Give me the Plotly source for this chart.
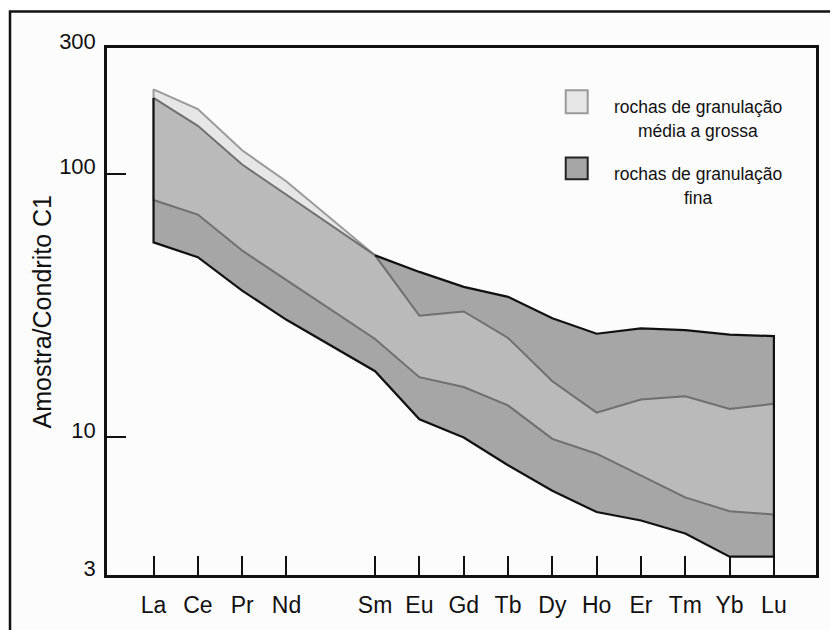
import plotly.graph_objects as go

# Full REE sequence (Pm is not analysed, but it keeps its slot on the axis)
ree_sequence = ["La", "Ce", "Pr", "Nd", "Pm", "Sm", "Eu", "Gd", "Tb", "Dy",
                "Ho", "Er", "Tm", "Yb", "Lu"]
elements = ["La", "Ce", "Pr", "Nd", "Sm", "Eu", "Gd", "Tb", "Dy", "Ho",
            "Er", "Tm", "Yb", "Lu"]

# Envelope: rochas de granulação média a grossa (coarse)
coarse_high = [209, 176, 122.7, 93.4, 49, 28.9, 30.0, 23.8, 16.3, 12.4,
               13.9, 14.3, 12.8, 13.4]
coarse_low = [79.5, 70.0, 51.1, 39.4, 23.6, 16.9, 15.5, 13.2, 9.86, 8.66,
              7.17, 5.91, 5.24, 5.09]

# Envelope: rochas de granulação fina (fine)
fine_high = [194, 152, 108.4, 83.2, 49, 42.4, 37.2, 34.1, 28.3, 24.7,
             25.9, 25.5, 24.5, 24.2]
fine_low = [54.9, 48.2, 36.0, 27.9, 17.8, 11.7, 9.97, 7.83, 6.26, 5.2,
            4.83, 4.31, 3.52, 3.52]

y_tick_values = [3, 10, 100, 300]
y_tick_labels = ["3", "10", "100", "300"]

legend_labels = ["rochas de granulação<br>média a grossa",
                 "rochas de granulação<br>fina"]

x = [ree_sequence.index(e) for e in elements]
xr = x[::-1]

overlap_high = [min(a, b) for a, b in zip(coarse_high, fine_high)]
overlap_low = [max(a, b) for a, b in zip(coarse_low, fine_low)]

C_LIGHT = "#e6e6e6"
C_MID = "#bababa"
C_DARK = "#a6a6a6"
L_LIGHT = "#9a9a9a"
L_MID = "#707070"
BG = "#fcfcfc"

fig = go.Figure()

# fine envelope (fill only)
fig.add_trace(go.Scatter(x=x + xr, y=fine_high + fine_low[::-1], fill="toself",
                         fillcolor=C_DARK, mode="lines", line=dict(width=0),
                         hoverinfo="skip", showlegend=False))
# coarse envelope
fig.add_trace(go.Scatter(x=x + xr + [x[0]], y=coarse_high + coarse_low[::-1] + [coarse_high[0]],
                         fill="toself", fillcolor=C_LIGHT, mode="lines",
                         line=dict(color=L_LIGHT, width=2),
                         hoverinfo="skip", showlegend=False))
# overlap of both envelopes
fig.add_trace(go.Scatter(x=x + xr, y=overlap_high + overlap_low[::-1], fill="toself",
                         fillcolor=C_MID, mode="lines", line=dict(width=0),
                         hoverinfo="skip", showlegend=False))
# overlap boundary lines
fig.add_trace(go.Scatter(x=x, y=overlap_high, mode="lines",
                         line=dict(color=L_MID, width=2),
                         hoverinfo="skip", showlegend=False))
fig.add_trace(go.Scatter(x=x, y=overlap_low, mode="lines",
                         line=dict(color=L_MID, width=2),
                         hoverinfo="skip", showlegend=False))
# visible outline of the fine envelope
i_sm = elements.index("Sm")
outline_x = [x[0]] + x + xr[:len(x) - i_sm]
outline_y = [fine_high[0]] + fine_low + fine_high[::-1][:len(x) - i_sm]
fig.add_trace(go.Scatter(x=outline_x, y=outline_y, mode="lines",
                         line=dict(color="#111111", width=2.2),
                         hoverinfo="skip", showlegend=False))

FONT = "Liberation Sans, Arial, sans-serif"

fig.update_layout(
    width=830, height=622, autosize=False,
    margin=dict(l=99, r=22, t=40, b=48),
    paper_bgcolor=BG, plot_bgcolor=BG,
    font=dict(family=FONT, color="#111111"),
    showlegend=False,
)
fig.update_xaxes(
    range=[-1.05, 14.95], tickvals=x, ticktext=elements,
    ticks="inside", ticklen=19, tickwidth=2, tickcolor="#111111",
    tickfont=dict(size=23, family=FONT), ticklabelstandoff=8,
    showgrid=False, zeroline=False, showline=True, mirror=True,
    linecolor="#111111", linewidth=2.5,
)
fig.update_yaxes(
    type="log", range=[0.47712, 2.47712],
    tickvals=y_tick_values, ticktext=y_tick_labels,
    ticks="inside", ticklen=19, tickwidth=2, tickcolor="#111111",
    tickfont=dict(size=22, family=FONT), ticklabelshift=-7, ticklabelstandoff=4,
    showgrid=False, zeroline=False, showline=True, mirror=True,
    linecolor="#111111", linewidth=2.5,
)

# outer frame
fig.add_shape(type="rect", xref="paper", yref="paper",
              x0=-0.1368, x1=1.3, y0=-0.3, y1=1.0693,
              line=dict(color="#111111", width=2.5))

# y-axis title
fig.add_annotation(text="Amostra/Condrito C1", xref="paper", yref="paper",
                   x=-0.0917, y=0.5, textangle=-90, showarrow=False,
                   xanchor="center", yanchor="middle",
                   font=dict(size=25, family=FONT))

# legend swatches
fig.add_shape(type="rect", xref="paper", yref="paper",
              x0=0.647, x1=0.678, y0=0.876, y1=0.920,
              fillcolor=C_LIGHT, line=dict(color=L_LIGHT, width=2))
fig.add_shape(type="rect", xref="paper", yref="paper",
              x0=0.647, x1=0.678, y0=0.751, y1=0.792,
              fillcolor=C_DARK, line=dict(color="#222222", width=2))
line_y = [[0.8886, 0.8427], [0.7603, 0.7154]]
for label, ys in zip(legend_labels, line_y):
    for part, yc in zip(label.split("<br>"), ys):
        fig.add_annotation(text=part, xref="paper", yref="paper",
                           x=0.8336, y=yc, showarrow=False, align="center",
                           xanchor="center", yanchor="middle",
                           font=dict(size=17.5, family=FONT))

fig.write_html("out.html")
